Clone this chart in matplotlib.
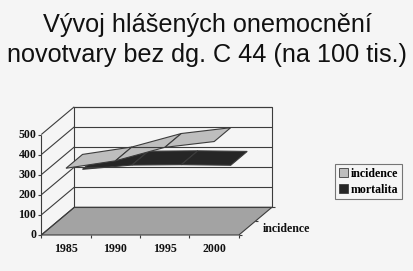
import numpy as np
import matplotlib
matplotlib.use("Agg")
import matplotlib.pyplot as plt
from matplotlib.patches import Polygon, Patch

# ---- data ----
years = ["1985", "1990", "1995", "2000"]
incidence = [332, 369, 436, 465]
mortalita = [258, 279, 281, 278]
series_names = ["incidence", "mortalita"]
y_ticks = [0, 100, 200, 300, 400, 500]
title_lines = ["Vývoj hlášených onemocnění", "novotvary bez dg. C 44 (na 100 tis.)"]
depth_label = "incidence"

# ---- styles ----
BG = "#f5f5f5"
LINE = "#3c3c3c"
FLOOR = "#a3a3a3"
C_INC = "#bebebe"
C_MORT = "#262626"

W, H = 414, 271
fig = plt.figure(figsize=(W / 100, H / 100), dpi=100, facecolor=BG)
ax = fig.add_axes([0, 0, 1, 1])
ax.set_facecolor(BG)
ax.axis("off")

# pixel geometry of the oblique projection
x0_px, cat_px = 41.3, 49.4
zero_px, v_px = 235.0, 0.201
ax.set_xlim(-x0_px / cat_px, (W - x0_px) / cat_px)
ax.set_ylim((zero_px - H) / v_px, zero_px / v_px)

DX = 33.0 / cat_px       # depth shift in category units
DV = 27.7 / v_px         # depth shift in value units
n = len(years)
vmax = max(y_ticks)

def P(x, v, f):
    return (x + f * DX, v + f * DV)

lk = dict(color=LINE, lw=0.8, solid_capstyle="butt")

# back wall
ax.add_patch(Polygon([P(0, 0, 1), P(n, 0, 1), P(n, vmax, 1), P(0, vmax, 1)],
                     closed=True, facecolor=BG, edgecolor=LINE, lw=0.8))
for t in y_ticks:
    ax.plot([P(0, t, 1)[0], P(n, t, 1)[0]], [P(0, t, 1)[1], P(n, t, 1)[1]], **lk)
    # side wall diagonals
    ax.plot([P(0, t, 0)[0], P(0, t, 1)[0]], [P(0, t, 0)[1], P(0, t, 1)[1]], **lk)
# front value axis
ax.plot([0, 0], [0, vmax], **lk)
for t in y_ticks:
    ax.plot([0, -3 / cat_px], [t, t], **lk)
    ax.text(-5 / cat_px, t, str(t), ha="right", va="center",
            family="Liberation Serif", weight="bold", fontsize=8.6, color="#111111")

# floor
ax.add_patch(Polygon([P(0, 0, 0), P(n, 0, 0), P(n, 0, 1), P(0, 0, 1)],
                     closed=True, facecolor=FLOOR, edgecolor=LINE, lw=0.8))
# category ticks and labels
for k in range(n + 1):
    ax.plot([k, k], [0, -3 / v_px], **lk)
for i, yr in enumerate(years):
    ax.text(i + 0.5, -14 / v_px, yr, ha="center", va="center",
            family="Liberation Serif", weight="bold", fontsize=8.6, color="#111111")
# depth axis ticks on right edge
for f in (0, 0.5, 1):
    x, v = P(n, 0, f)
    ax.plot([x, x + 3 / cat_px], [v, v], **lk)
xl, vl = P(n, 0, 0.25)
ax.text(286 / cat_px - x0_px / cat_px, (zero_px - 229) / v_px, depth_label,
        ha="center", va="center", family="Liberation Serif", weight="bold",
        fontsize=8.6, color="#111111")

# ribbons (back series first)
xs = np.arange(n) + 0.5
def ribbon(vals, f0, f1, color):
    for i in range(n - 1):
        pts = [P(xs[i], vals[i], f0), P(xs[i + 1], vals[i + 1], f0),
               P(xs[i + 1], vals[i + 1], f1), P(xs[i], vals[i], f1)]
        ax.add_patch(Polygon(pts, closed=True, facecolor=color,
                             edgecolor=LINE, lw=0.8, joinstyle="miter"))

ribbon(mortalita, 0.5, 1.0, C_MORT)
ribbon(incidence, 0.0, 0.5, C_INC)

# legend
handles = [Patch(facecolor=C_INC, edgecolor=LINE, lw=0.6),
           Patch(facecolor=C_MORT, edgecolor=LINE, lw=0.6)]
leg = ax.legend(handles, series_names, loc="upper left",
                bbox_to_anchor=(335 / W, 1 - 164 / H), frameon=True,
                fancybox=False, edgecolor="#555555", facecolor=BG,
                prop=dict(family="Liberation Serif", weight="bold", size=8.6),
                handlelength=0.75, handleheight=0.75, handletextpad=0.3,
                borderpad=0.3, labelspacing=0.35, borderaxespad=0)
leg.get_frame().set_linewidth(0.8)

# title
fig.text(0.5, 1 - 32 / H, title_lines[0], ha="center", va="baseline",
         family="Liberation Sans", fontsize=18.2, color="#111111")
fig.text(0.5, 1 - 62 / H, title_lines[1], ha="center", va="baseline",
         family="Liberation Sans", fontsize=18.2, color="#111111")

fig.savefig("out.png", dpi=100, facecolor=BG)
